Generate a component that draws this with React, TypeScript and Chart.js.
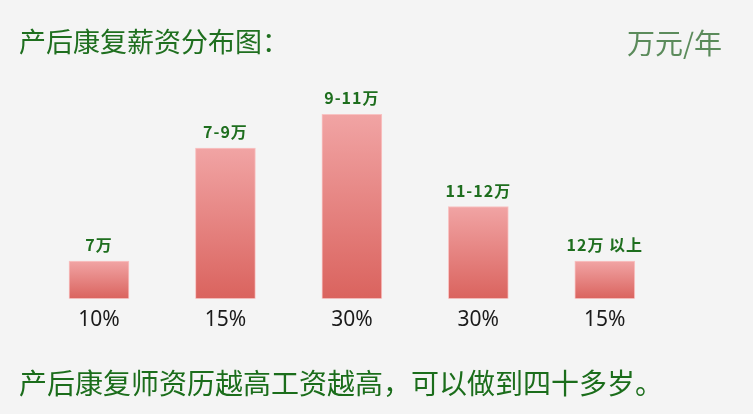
import React, { useEffect, useRef } from "react";
import { Chart, registerables } from "chart.js";

Chart.register(...registerables);

const categories = ["7万", "7-9万", "9-11万", "11-12万", "12万 以上"];
const barValues = [2, 8, 9.8, 4.9, 2];
const percents = ["10%", "15%", "30%", "30%", "15%"];
const titleText = "产后康复薪资分布图：";
const unitText = "万元/年";
const footerText = "产后康复师资历越高工资越高，可以做到四十多岁。";

const CJK = '"Noto Sans CJK SC", "Noto Sans", sans-serif';

const textPlugin = {
  id: "texts",
  afterDatasetsDraw(chart: any) {
    const ctx = chart.ctx;
    ctx.save();
    // value labels above bars
    const meta = chart.getDatasetMeta(0);
    ctx.font = `bold 16px ${CJK}`;
    ctx.fillStyle = "#1e6e1e";
    ctx.textAlign = "center";
    ctx.textBaseline = "middle";
    try { (ctx as any).letterSpacing = "1px"; } catch (e) {}
    meta.data.forEach((el: any, i: number) => {
      ctx.fillText(categories[i], el.x, el.y - 16);
    });
    try { (ctx as any).letterSpacing = "0px"; } catch (e) {}
    // title
    ctx.textAlign = "left";
    ctx.font = `27px ${CJK}`;
    ctx.fillStyle = "#1f6f1f";
    ctx.fillText(titleText, 19, 42);
    // unit
    ctx.textAlign = "right";
    ctx.font = `28px ${CJK}`;
    ctx.fillStyle = "#5b8b5b";
    ctx.fillText(unitText, 722, 43);
    // footer
    ctx.textAlign = "left";
    ctx.font = `28px ${CJK}`;
    ctx.fillStyle = "#1b6d1b";
    ctx.fillText(footerText, 19, 383);
    ctx.restore();
  },
};

export default function App() {
  const ref = useRef<HTMLCanvasElement>(null);
  useEffect(() => {
    document.body.style.margin = "0";
    const canvas = ref.current!;
    const chart = new Chart(canvas, {
      type: "bar",
      data: {
        labels: categories,
        datasets: [
          {
            data: barValues,
            barThickness: 60,
            borderWidth: 1,
            borderColor: "rgba(248,190,190,0.9)",
            borderSkipped: false,
            backgroundColor: (c: any) => {
              const chart = c.chart;
              const y = chart.scales?.y;
              if (!y) return "#e58080";
              const v = barValues[c.dataIndex] ?? 0;
              const top = y.getPixelForValue(v);
              const bottom = y.getPixelForValue(0);
              if (!isFinite(top) || !isFinite(bottom)) return "#e58080";
              const g = chart.ctx.createLinearGradient(0, top, 0, bottom);
              g.addColorStop(0, "#f1a4a4");
              g.addColorStop(1, "#da635e");
              return g;
            },
          },
        ],
      },
      options: {
        responsive: false,
        animation: false,
        events: [],
        layout: { padding: { top: 110.5, left: 35.75, right: 85, bottom: 80 } },
        plugins: {
          legend: { display: false },
          tooltip: { enabled: false },
        },
        scales: {
          x: {
            grid: { display: false },
            border: { display: false },
            ticks: {
              padding: 1,
              color: "#1a1a1a",
              font: { size: 21, family: '"Noto Sans", sans-serif' },
              callback: (_v: any, i: number) => percents[i],
            },
          },
          y: { display: false, min: 0, max: 10 },
        },
      },
      plugins: [textPlugin],
    });
    return () => chart.destroy();
  }, []);
  return (
    <div style={{ width: 753, height: 414, background: "#f4f4f4" }}>
      <canvas ref={ref} width={753} height={414} style={{ display: "block" }} />
    </div>
  );
}
